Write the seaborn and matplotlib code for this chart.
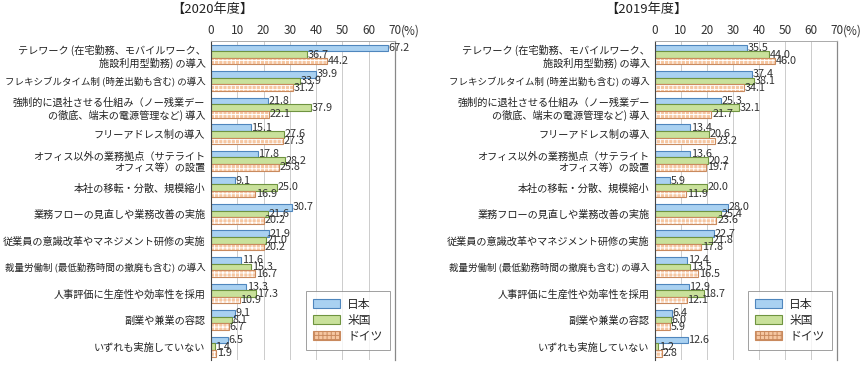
import seaborn as sns
import pandas as pd
import matplotlib.pyplot as plt
from matplotlib.patches import Patch, Rectangle
import matplotlib.transforms as mtransforms

items = [
    "テレワーク (在宅勤務、モバイルワーク、\n施設利用型勤務) の導入",
    "フレキシブルタイム制 (時差出勤も含む) の導入",
    "強制的に退社させる仕組み（ノー残業デー\nの徹底、端末の電源管理など) 導入",
    "フリーアドレス制の導入",
    "オフィス以外の業務拠点（サテライト\nオフィス等）の設置",
    "本社の移転・分散、規模縮小",
    "業務フローの見直しや業務改善の実施",
    "従業員の意識改革やマネジメント研修の実施",
    "裁量労働制 (最低勤務時間の撤廃も含む) の導入",
    "人事評価に生産性や効率性を採用",
    "副業や兼業の容認",
    "いずれも実施していない",
]
countries = ["日本", "米国", "ドイツ"]

japan_2020 = [67.2, 39.9, 21.8, 15.1, 17.8, 9.1, 30.7, 21.9, 11.6, 13.3, 9.1, 6.5]
us_2020 = [36.7, 33.9, 37.9, 27.6, 28.2, 25.0, 21.6, 21.0, 15.3, 17.3, 8.1, 1.4]
germany_2020 = [44.2, 31.2, 22.1, 27.3, 25.8, 16.9, 20.2, 20.2, 16.7, 10.9, 6.7, 1.9]

japan_2019 = [35.5, 37.4, 25.3, 13.4, 13.6, 5.9, 28.0, 22.7, 12.4, 12.9, 6.4, 12.6]
us_2019 = [44.0, 38.1, 32.1, 20.6, 20.2, 20.0, 25.4, 21.8, 13.5, 18.7, 6.0, 1.2]
germany_2019 = [46.0, 34.1, 21.7, 23.2, 19.7, 11.9, 23.6, 17.8, 16.5, 12.1, 5.9, 2.8]

xticks = [0, 10, 20, 30, 40, 50, 60, 70]

fills = ["#a9d1f1", "#c9e19b", "#f6c7a2"]
edges = ["#4f86bd", "#6f9440", "#c98a5e"]


def long_df(jp, us, de):
    rows = []
    for name, vals in zip(countries, [jp, us, de]):
        for it, v in zip(items, vals):
            rows.append({"item": it, "country": name, "value": v})
    return pd.DataFrame(rows)


sns.set_theme(style="white")
plt.rcParams['font.family'] = ['Noto Sans CJK JP', 'DejaVu Sans']
plt.rcParams['hatch.linewidth'] = 0.7

fig = plt.figure(figsize=(8.66, 3.65), dpi=100)
ax1 = fig.add_axes([0.2436, 0.014, 0.2125, 0.873])
ax2 = fig.add_axes([0.7564, 0.014, 0.2102, 0.873])


def panel(ax, df, title, title_x):
    sns.barplot(data=df, y="item", x="value", hue="country", palette=fills,
                orient="h", width=0.75, ax=ax, legend=False, saturation=1)
    for i, cont in enumerate(ax.containers):
        for p in cont:
            p.set_edgecolor(edges[i])
            p.set_linewidth(0.8)
        if i == 2:
            for p in cont:
                p.set_hatch("++++")
                p.set_edgecolor("white")
                p.set_linewidth(0)
                ax.add_patch(Rectangle(p.get_xy(), p.get_width(), p.get_height(),
                                       fill=False, ec=edges[i], lw=0.8, zorder=p.get_zorder() + 0.1))
        ax.bar_label(cont, fmt="%.1f", padding=0.5, fontsize=7.8, color="#333333")

    ax.set_xlim(0, 70)
    ax.set_ylim(11.5, -0.5)
    ax.xaxis.tick_top()
    ax.set_xticks(xticks)
    ax.set_xticklabels([str(t) for t in xticks])
    ax.tick_params(axis="x", length=0, pad=3, labelsize=8.5, labelcolor="#333333")
    ax.tick_params(axis="y", length=0, pad=4, labelsize=7.3, labelcolor="#222222")
    # the two longest one-line labels are squeezed a little so they fit
    for lab in ax.get_yticklabels():
        txt = lab.get_text()
        if "\n" not in txt and len(txt) > 21:
            lab.set_fontsize(6.8)
    ax.set_xlabel("")
    ax.set_ylabel("")
    ax.grid(axis="x", color="#cccccc", linewidth=0.7)
    ax.set_axisbelow(True)
    ax.spines["left"].set_color("#444444")
    ax.spines["left"].set_linewidth(0.8)
    ax.spines["top"].set_color("#aaaaaa")
    ax.spines["top"].set_linewidth(0.7)
    ax.spines["right"].set_color("#888888")
    ax.spines["right"].set_linewidth(0.9)
    ax.spines["bottom"].set_visible(False)

    trans = mtransforms.blended_transform_factory(ax.transData, ax.transAxes)
    ax.annotate("(%)", xy=(70, 1), xycoords=trans, xytext=(4.5, 3),
                textcoords="offset points", ha="left", va="bottom",
                fontsize=8.5, color="#333333")

    fig.text(title_x, 0.975, title, ha="center", va="center", fontsize=9.5, color="#222222")

    handles = [Patch(facecolor=fills[0], edgecolor=edges[0], lw=0.8),
               Patch(facecolor=fills[1], edgecolor=edges[1], lw=0.8),
               Patch(facecolor=fills[2], edgecolor=edges[2], lw=0.8, hatch="++++")]
    leg = ax.legend(handles, countries, loc="lower right", bbox_to_anchor=(0.99, 0.02),
                    fontsize=8.5, frameon=True, fancybox=False, handlelength=2.3,
                    handleheight=0.8, labelspacing=0.25, borderpad=0.6,
                    handletextpad=0.6, borderaxespad=0.3)
    leg.get_frame().set_edgecolor("#888888")
    leg.get_frame().set_linewidth(0.7)


panel(ax1, long_df(japan_2020, us_2020, germany_2020), "【2020年度】", 0.245)
panel(ax2, long_df(japan_2019, us_2019, germany_2019), "【2019年度】", 0.747)

plt.savefig("out.png", dpi=100)
